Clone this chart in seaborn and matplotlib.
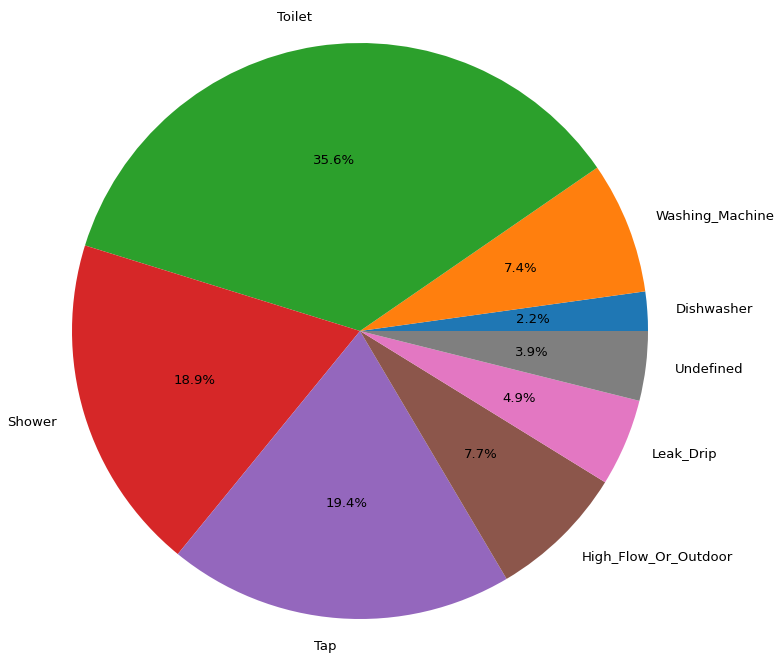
import matplotlib
matplotlib.use('Agg')
import matplotlib.pyplot as plt
import seaborn as sns

# 数据
categories = ['Dishwasher', 'Washing_Machine', 'Toilet', 'Shower', 'Tap',
              'High_Flow_Or_Outdoor', 'Leak_Drip', 'Undefined']
shares = [2.2, 7.4, 35.6, 18.9, 19.4, 7.7, 4.9, 3.9]

colors = sns.color_palette('tab10', len(categories))

fig = plt.figure(figsize=(7.74, 6.57), dpi=100)
ax = fig.add_axes([0, 0, 1, 1])

ax.pie(shares, labels=categories, colors=colors, autopct='%1.1f%%',
       startangle=0, counterclock=True,
       textprops={'fontsize': 9.5})

# 像素对齐：圆心 (360, 331)，半径 288
r = 288.0
cx, cy = 360.0, 657 - 331.0
ax.set_xlim(-cx / r, (774 - cx) / r)
ax.set_ylim(-cy / r, (657 - cy) / r)
ax.set_aspect('auto')
ax.axis('off')

fig.savefig('out.png', dpi=100)
